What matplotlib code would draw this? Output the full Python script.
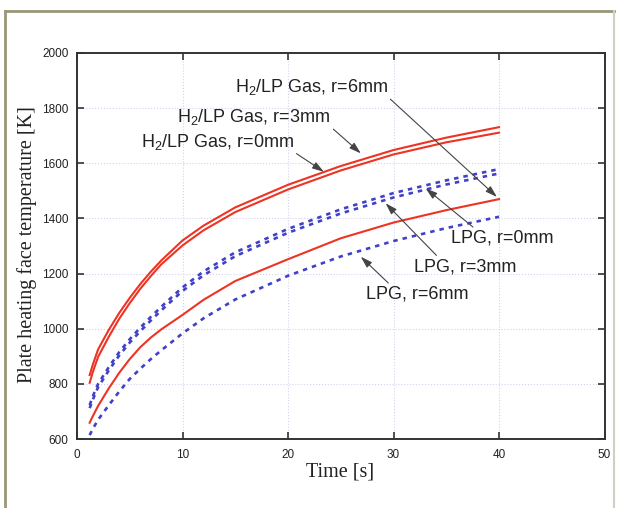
import matplotlib
matplotlib.use("Agg")
import matplotlib.pyplot as plt
from matplotlib.lines import Line2D

plt.rcParams["font.family"] = ["Liberation Sans", "DejaVu Sans"]
plt.rcParams["mathtext.fontset"] = "custom"
plt.rcParams["mathtext.rm"] = "Liberation Sans"

# time samples [s]
t = [1.2, 1.5, 2, 3, 4, 5, 6, 7, 8, 10, 12, 15, 20, 25, 30, 35, 40]

# H2/LP gas, heating face temperature [K]
h2_r3 = [832, 870, 925, 995, 1057, 1112, 1162, 1207, 1248, 1320, 1374, 1440, 1522, 1590, 1648, 1693, 1731]
h2_r0 = [804, 843, 898, 970, 1036, 1093, 1145, 1191, 1234, 1302, 1357, 1423, 1505, 1574, 1632, 1676, 1711]
h2_r6 = [659, 683, 720, 783, 840, 890, 933, 968, 998, 1050, 1105, 1173, 1252, 1328, 1385, 1430, 1470]

# LPG
lpg_r0 = [723, 755, 800, 860, 915, 962, 1004, 1043, 1080, 1150, 1208, 1277, 1362, 1433, 1492, 1538, 1579]
lpg_r3 = [712, 743, 788, 848, 903, 950, 991, 1030, 1067, 1137, 1194, 1263, 1348, 1418, 1476, 1523, 1563]
lpg_r6 = [614, 637, 670, 722, 772, 818, 855, 890, 922, 983, 1038, 1106, 1192, 1262, 1318, 1365, 1406]

xticks = [0, 10, 20, 30, 40, 50]
yticks = [600, 800, 1000, 1200, 1400, 1600, 1800, 2000]

red = "#ee3322"
blue = "#4040c8"

fig = plt.figure(figsize=(6.19, 5.08), dpi=100)
ax = fig.add_axes([0.1244, 0.1358, 0.8522, 0.7599])

ax.plot(t, h2_r3, color=red, lw=1.5)
ax.plot(t, h2_r0, color=red, lw=1.5)
ax.plot(t, h2_r6, color=red, lw=1.5)
ax.plot(t, lpg_r0, color=blue, lw=1.9, linestyle=(0, (1.7, 1.9)))
ax.plot(t, lpg_r3, color=blue, lw=1.9, linestyle=(0, (1.7, 1.9)))
ax.plot(t, lpg_r6, color=blue, lw=1.9, linestyle=(0, (1.7, 1.9)))

ax.set_xlim(0, 50)
ax.set_ylim(600, 2000)
ax.set_xticks(xticks)
ax.set_yticks(yticks)
ax.grid(True, color="#d2d2f0", linestyle=":", lw=0.8)
ax.tick_params(direction="in", length=5, width=1.1, top=True, right=True,
               labelsize=8.5, colors="#222222")
ax.tick_params(axis="x", pad=7)
ax.tick_params(axis="y", pad=6)
for s in ax.spines.values():
    s.set_color("#333333")
    s.set_linewidth(1.4)

ax.set_xlabel("Time [s]", family="Liberation Serif", fontsize=14.5, color="#222222")
ax.set_ylabel("Plate heating face temperature [K]", family="Liberation Serif",
              fontsize=14.5, color="#222222")
ax.xaxis.set_label_coords(0.499, -0.062)
ax.yaxis.set_label_coords(-0.076, 0.505)

arrow = dict(arrowstyle="-|>,head_length=0.7,head_width=0.22", color="#444444",
             lw=0.8, shrinkA=0, shrinkB=0, mutation_scale=10)

# labels for the H2/LP gas curves
h2_labels = [
    (r"H$_\mathregular{2}$/LP Gas, r=6mm", (39.8, 1478), (29.44, 1878)),
    (r"H$_\mathregular{2}$/LP Gas, r=3mm", (26.9, 1636), (24.03, 1769)),
    (r"H$_\mathregular{2}$/LP Gas, r=0mm", (23.4, 1569), (20.54, 1678)),
]
for txt, tip, pos in h2_labels:
    ax.annotate(txt, xy=tip, xytext=pos, ha="right", va="center", fontsize=13,
                color="#222222", arrowprops=dict(arrow, relpos=(1.0, 0.0)))

# labels for the LPG curves
lpg_labels = [
    ("LPG, r=0mm", (33.05, 1509), (35.42, 1328)),
    ("LPG, r=3mm", (29.25, 1455), (31.9, 1225)),
    ("LPG, r=6mm", (26.9, 1261), (27.35, 1125)),
]
for txt, tip, pos in lpg_labels:
    ax.annotate(txt, xy=tip, xytext=pos, ha="left", va="center", fontsize=13,
                color="#222222", arrowprops=dict(arrow, relpos=(0.25, 1.0)))

# outer frame
fig.add_artist(Line2D([0.008, 0.008], [-0.01, 0.978], transform=fig.transFigure,
                      color="#9b9677", lw=2))
fig.add_artist(Line2D([0.008, 0.992], [0.978, 0.978], transform=fig.transFigure,
                      color="#9b9677", lw=2))
fig.add_artist(Line2D([0.992, 0.992], [-0.01, 0.978], transform=fig.transFigure,
                      color="#cfcfc6", lw=1.5))

fig.savefig("out.png", dpi=100)
